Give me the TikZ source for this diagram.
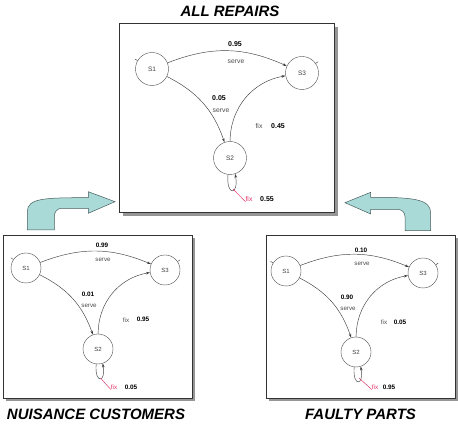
\documentclass[tikz,border=0pt]{standalone}
\usepackage{fontspec}
\setmainfont{Liberation Sans}
\usetikzlibrary{arrows.meta}
\definecolor{bentfill}{RGB}{170,218,216}
\definecolor{bentline}{RGB}{70,92,92}
\definecolor{fixred}{RGB}{228,50,100}
\definecolor{shadowgray}{RGB}{150,150,150}

\begin{document}
\begin{tikzpicture}[x=1pt,y=1pt,
    state/.style={circle,draw=black!70,line width=0.4pt,minimum size=33pt,inner sep=0pt,
      font=\fontsize{6.5}{7}\selectfont,text=black!75},
    smallstate/.style={state,minimum size=30pt,font=\fontsize{6}{7}\selectfont},
    trans/.style={draw=black!75,line width=0.45pt,-{Stealth[length=4pt,width=2.6pt]}},
    stub/.style={draw=black!75,line width=0.45pt},
    prob/.style={font=\fontsize{7}{8}\selectfont\bfseries,inner sep=0pt},
    smallprob/.style={prob,font=\fontsize{6.4}{7}\selectfont\bfseries},
    act/.style={font=\fontsize{6.8}{8}\selectfont,text=black!70,inner sep=0pt},
    smallact/.style={act,font=\fontsize{6.2}{7}\selectfont},
    fixlab/.style={act,text=fixred},
    smallfixlab/.style={smallact,text=fixred},
    fixline/.style={draw=fixred,line width=0.45pt},
    panel/.style={draw=black!80,fill=white,line width=0.6pt},
    shade/.style={fill=shadowgray},
    heading/.style={font=\fontsize{15}{18}\selectfont\bfseries\itshape,inner sep=0pt},
    bent/.style={fill=bentfill,draw=bentline,line width=0.5pt}]

  \useasboundingbox (0,0) rectangle (458,428);

  % all repairs
  \fill[shade] (123,212) rectangle (338,401);
  \draw[panel] (119,216) rectangle (334,405);
  \node[heading] (ttitle) at (230,416.5) {ALL REPAIRS};
  \node[state] (ts1) at (152,359) {S1};
  \node[state] (ts3) at (302,355) {S3};
  \node[state] (ts2) at (230,270) {S2};
  \draw[stub] (ts1.150) -- ++(150:3);
  \draw[stub] (ts3.35) -- ++(35:3);
  \draw[trans] (ts1) to[bend left=23] (ts3);
  \draw[trans] (ts1) to[bend left=22] (ts2);
  \draw[trans] (ts2) to[bend left=40] (ts3);
  \draw[trans] (ts2.-97) .. controls +(-95:22) and +(-80:22) .. (ts2.-72);
  \coordinate (tloop) at (233,239);
  \node[prob] (tp13) at (235,384) {0.95};
  \node[act] (ta13) at (236,366) {serve};
  \node[prob] (tp12) at (219,330) {0.05};
  \node[act] (ta12) at (221,317) {serve};
  \node[act] (ta23) at (259,302) {fix};
  \node[prob] (tp23) at (278,302) {0.45};
  \node[fixlab] (ta22) at (249,229) {fix};
  \node[prob] (tp22) at (267,229) {0.55};
  \draw[fixline] (tloop) -- (ta22.south west);

  % nuisance customers
  \fill[shade] (6,27) rectangle (195,190);
  \draw[panel] (3,30) rectangle (192,193);
  \node[heading] (ltitle) at (96,14) {NUISANCE CUSTOMERS};
  \node[smallstate] (ls1) at (26,160) {S1};
  \node[smallstate] (ls3) at (165,158) {S3};
  \node[smallstate] (ls2) at (98,79) {S2};
  \draw[stub] (ls1.146) -- ++(146:3);
  \draw[stub] (ls3.34) -- ++(34:3);
  \draw[trans] (ls1) to[bend left=22] (ls3);
  \draw[trans] (ls1) to[bend left=22] (ls2);
  \draw[trans] (ls2) to[bend left=40] (ls3);
  \draw[trans] (ls2.-97) .. controls +(-95:20) and +(-80:20) .. (ls2.-72);
  \coordinate (lloop) at (100.5,50);
  \node[smallprob] (lp13) at (102,183) {0.99};
  \node[smallact] (la13) at (103,168) {serve};
  \node[smallprob] (lp12) at (88,134) {0.01};
  \node[smallact] (la12) at (89,122) {serve};
  \node[smallact] (la23) at (126,108) {fix};
  \node[smallprob] (lp23) at (143,108.5) {0.95};
  \node[smallfixlab] (la22) at (114,41) {fix};
  \node[smallprob] (lp22) at (131,41) {0.05};
  \draw[fixline] (lloop) -- (la22.south west);

  % faulty parts
  \fill[shade] (269,27) rectangle (458,190);
  \draw[panel] (266,30) rectangle (455,193);
  \node[heading] (rtitle) at (360.5,14) {FAULTY PARTS};
  \node[smallstate] (rs1) at (286,157) {S1};
  \node[smallstate] (rs3) at (423,155) {S3};
  \node[smallstate] (rs2) at (356,76) {S2};
  \draw[stub] (rs1.148) -- ++(148:3);
  \draw[stub] (rs3.33) -- ++(33:3);
  \draw[trans] (rs1) to[bend left=22] (rs3);
  \draw[trans] (rs1) to[bend left=22] (rs2);
  \draw[trans] (rs2) to[bend left=40] (rs3);
  \draw[trans] (rs2.-97) .. controls +(-95:20) and +(-80:20) .. (rs2.-72);
  \coordinate (rloop) at (359,50);
  \node[smallprob] (rp13) at (361,178) {0.10};
  \node[smallact] (ra13) at (362,164) {serve};
  \node[smallprob] (rp12) at (347,131) {0.90};
  \node[smallact] (ra12) at (348,119) {serve};
  \node[smallact] (ra23) at (384,106) {fix};
  \node[smallprob] (rp23) at (400,106) {0.05};
  \node[smallfixlab] (ra22) at (375,41) {fix};
  \node[smallprob] (rp22) at (389,41) {0.95};
  \draw[fixline] (rloop) -- (ra22.south west);

  % bent arrows into the top panel
  \draw[bent] (27.3,198) -- (27.3,216.3) .. controls (27.3,230) and (45,230.3) .. (88.3,230.3)
    -- (88.3,236.3) -- (115,226.3) -- (88.3,214.7) -- (88.3,219.7) -- (62,219.7)
    .. controls (57,219.7) and (54.3,216) .. (54.3,211.3) -- (54.3,198) -- cycle;
  \draw[bent] (430.7,197.3) -- (430.7,214.7) .. controls (430.7,229) and (414,230.7) .. (370.7,230.7)
    -- (370.7,235.7) -- (345,225.3) -- (370.7,214) -- (370.7,218.7) -- (397,218.7)
    .. controls (402,218.7) and (405,215.5) .. (405,211.3) -- (405,197.3) -- cycle;
\end{tikzpicture}
\end{document}
